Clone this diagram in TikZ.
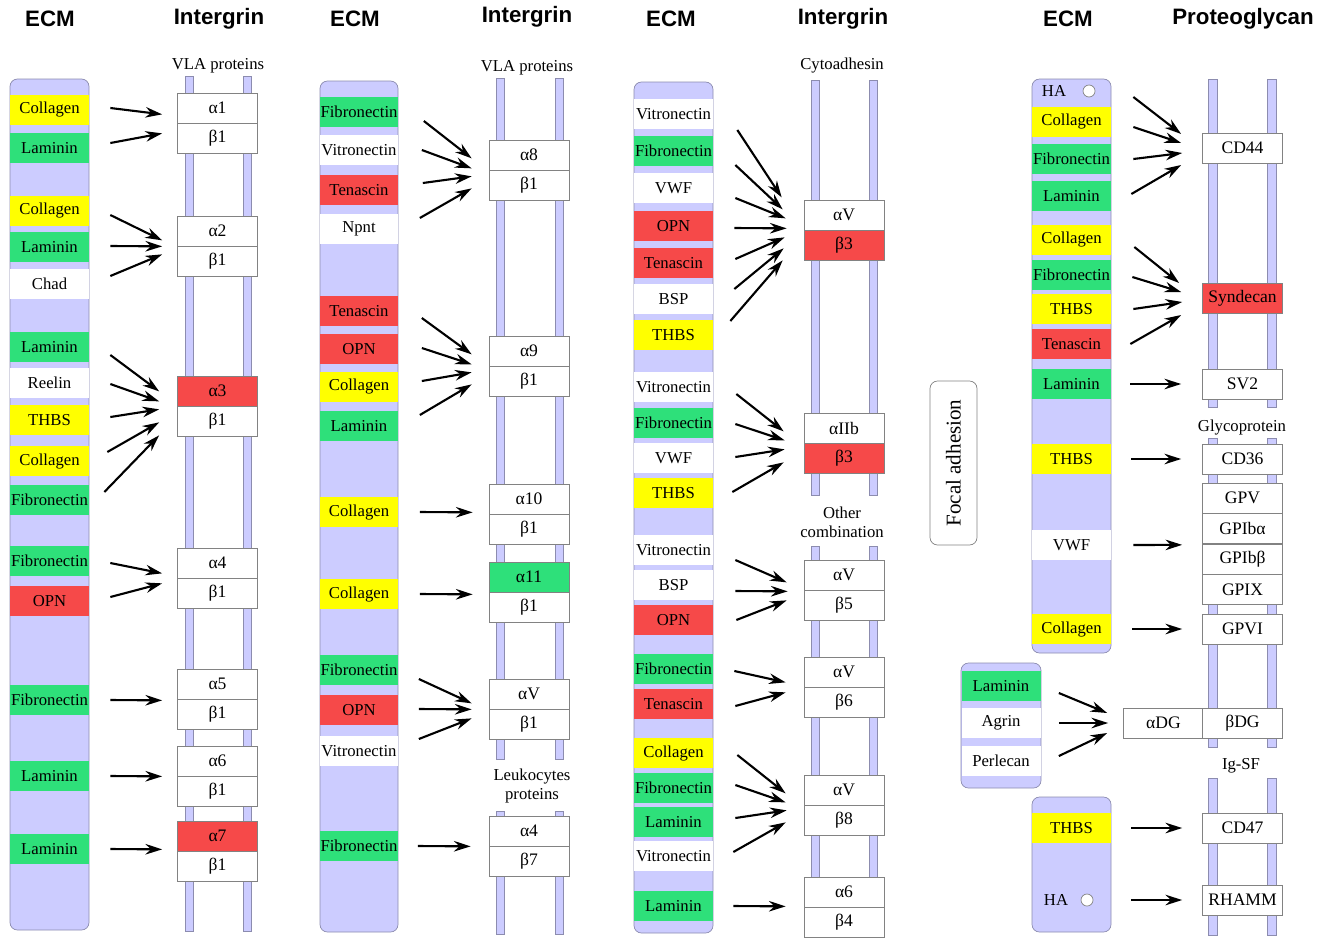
\documentclass[tikz,border=0pt]{standalone}
\usepackage{fontspec}
\setmainfont{Liberation Serif}
\setsansfont{Liberation Sans}
\usetikzlibrary{arrows.meta}

\definecolor{lav}{RGB}{204,204,255}
\definecolor{lavline}{RGB}{140,140,175}
\definecolor{ecmyel}{RGB}{255,255,0}
\definecolor{ecmgrn}{RGB}{46,224,122}
\definecolor{ecmred}{RGB}{246,73,73}
\definecolor{boxline}{RGB}{130,130,130}

\tikzset{
  head/.style={font=\sffamily\bfseries\fontsize{12.7}{15}\selectfont},
  note/.style={font=\fontsize{9.5}{11}\selectfont, align=center, inner sep=0pt},
  ecm/.style={fill=lav, draw=lavline, rounded corners=0.15cm},
  rail/.style={fill=lav, draw=lavline},
  band/.style={minimum width=1.58cm, minimum height=0.6cm, inner sep=0pt, font=\fontsize{9.5}{11}\selectfont},
  yband/.style={band, fill=ecmyel},
  gband/.style={band, fill=ecmgrn},
  rband/.style={band, fill=ecmred},
  wband/.style={band, fill=white},
  unit/.style={draw=boxline, fill=white, minimum width=1.6cm, minimum height=0.6cm, inner sep=0pt, font=\fontsize{10}{12}\selectfont},
  runit/.style={unit, fill=ecmred},
  gunit/.style={unit, fill=ecmgrn},
  hole/.style={circle, draw=boxline, fill=white, minimum size=0.24cm, inner sep=0pt},
  arr/.style={-{Stealth[length=9.5pt, width=6pt]}, line width=1.2pt}
}
\newcommand{\ecmlink}[4]{\draw[arr] ([shift={(#2)}]#1) -- ([shift={(#4)}]#3);}

\begin{document}
\begin{tikzpicture}[x=0.02cm, y=-0.02cm]
\useasboundingbox (0,0) rectangle (1324,937);

% headings
\node[head] (h1) at (50,19) {ECM};
\node[head] (h2) at (219,19) {Intergrin};
\node[head] (h3) at (355,19) {ECM};
\node[head] (h4) at (527,17) {Intergrin};
\node[head] (h5) at (671,19) {ECM};
\node[head] (h6) at (843,19) {Intergrin};
\node[head] (h7) at (1068,19) {ECM};
\node[head] (h8) at (1243,19) {Proteoglycan};

% panel 1
\draw[ecm] (10,79) rectangle (89,930);
\draw[rail] (185,76) rectangle (193,931);
\draw[rail] (243,76) rectangle (251,931);
\node[note] (vla1) at (218,66) {VLA proteins};

\node[yband] (x1) at (49.5,110) {Collagen};
\node[gband] (x2) at (49.5,148) {Laminin};
\node[yband] (x3) at (49.5,211) {Collagen};
\node[gband] (x4) at (49.5,247) {Laminin};
\node[wband] (x5) at (49.5,284) {Chad};
\node[gband] (x6) at (49.5,347) {Laminin};
\node[wband] (x7) at (49.5,383) {Reelin};
\node[yband] (x8) at (49.5,420) {THBS};
\node[yband] (x9) at (49.5,461) {Collagen};
\node[gband] (x10) at (49.5,500) {Fibronectin};
\node[gband] (x11) at (49.5,561) {Fibronectin};
\node[rband] (x12) at (49.5,601) {OPN};
\node[gband] (x13) at (49.5,700) {Fibronectin};
\node[gband] (x14) at (49.5,776) {Laminin};
\node[gband] (x15) at (49.5,849) {Laminin};

\node[unit] (al1) at (217.5,108) {α1};
\node[unit] (be1) at (217.5,138) {β1};
\node[unit] (al2) at (217.5,231) {α2};
\node[unit] (be2) at (217.5,261) {β1};
\node[runit] (al3) at (217.5,391) {α3};
\node[unit] (be3) at (217.5,421) {β1};
\node[unit] (al4) at (217.5,563) {α4};
\node[unit] (be4) at (217.5,593) {β1};
\node[unit] (al5) at (217.5,684) {α5};
\node[unit] (be5) at (217.5,714) {β1};
\node[unit] (al6) at (217.5,761) {α6};
\node[unit] (be6) at (217.5,791) {β1};
\node[runit] (al7) at (217.5,836) {α7};
\node[unit] (be7) at (217.5,866) {β1};

\ecmlink{x1.east}{21,-2}{al1.south west}{-15,-9}
\ecmlink{x2.east}{21,-5}{al1.south west}{-15,10}
\ecmlink{x3.east}{21,4}{al2.south west}{-15,-6}
\ecmlink{x4.east}{21,-1}{al2.south west}{-15,0}
\ecmlink{x5.east}{21,-8}{al2.south west}{-15,8}
\ecmlink{x6.east}{21,8}{al3.south west}{-18,-15}
\ecmlink{x7.east}{21,1}{al3.south west}{-18,-5}
\ecmlink{x8.east}{21,-3}{al3.south west}{-18,3}
\ecmlink{x9.east}{18,-9}{al3.south west}{-18,16}
\ecmlink{x10.east}{15,-8}{al3.south west}{-18,29}
\ecmlink{x11.east}{21,2}{al4.south west}{-15,-5}
\ecmlink{x12.east}{21,-4}{al4.south west}{-15,5}
\ecmlink{x13.east}{21,0}{al5.south west}{-15,1}
\ecmlink{x14.east}{21,0}{al6.south west}{-15,0}
\ecmlink{x15.east}{21,0}{al7.south west}{-15,-2}

% panel 2
\draw[ecm] (320,81) rectangle (398,932);
\draw[rail] (496,78) rectangle (504,759);
\draw[rail] (555,78) rectangle (563,759);
\draw[rail] (496,811) rectangle (504,934);
\draw[rail] (555,811) rectangle (563,934);
\node[note] (vla2) at (527,68) {VLA proteins};
\node[note] (leuko) at (532,786) {Leukocytes\\proteins};

\node[gband] (y1) at (359,112) {Fibronectin};
\node[wband] (y2) at (359,150) {Vitronectin};
\node[rband] (y3) at (359,190) {Tenascin};
\node[wband] (y4) at (359,229) {Npnt};
\node[rband] (y5) at (359,311) {Tenascin};
\node[rband] (y6) at (359,349) {OPN};
\node[yband] (y7) at (359,387) {Collagen};
\node[gband] (y8) at (359,426) {Laminin};
\node[yband] (y9) at (359,512) {Collagen};
\node[yband] (y10) at (359,594) {Collagen};
\node[gband] (y11) at (359,670) {Fibronectin};
\node[rband] (y12) at (359,710) {OPN};
\node[wband] (y13) at (359,751) {Vitronectin};
\node[gband] (y14) at (359,846) {Fibronectin};

\node[unit] (al8) at (529,155) {α8};
\node[unit] (be8) at (529,185) {β1};
\node[unit] (al9) at (529,351) {α9};
\node[unit] (be9) at (529,381) {β1};
\node[unit] (al10) at (529,499) {α10};
\node[unit] (be10) at (529,529) {β1};
\node[gunit] (al11) at (529,577) {α11};
\node[unit] (be11) at (529,607) {β1};
\node[unit] (alv1) at (529,694) {αV};
\node[unit] (bev1) at (529,724) {β1};
\node[unit] (al4b) at (529,831) {α4};
\node[unit] (be47) at (529,861) {β7};

\ecmlink{y1.east}{25,9}{al8.south west}{-17,-12}
\ecmlink{y2.east}{23,0}{al8.south west}{-17,-2}
\ecmlink{y3.east}{24,-7}{al8.south west}{-17,6}
\ecmlink{y4.east}{21,-11}{al8.south west}{-17,18}
\ecmlink{y5.east}{23,7}{al9.south west}{-17,-12}
\ecmlink{y6.east}{23,-1}{al9.south west}{-17,-2}
\ecmlink{y7.east}{23,-6}{al9.south west}{-17,6}
\ecmlink{y8.east}{21,-11}{al9.south west}{-17,18}
\ecmlink{y9.east}{21,0}{al10.south west}{-16,-2}
\ecmlink{y10.east}{21,0}{al11.south west}{-16,2}
\ecmlink{y11.east}{20,9}{alv1.south west}{-17,-6}
\ecmlink{y12.east}{20,-1}{alv1.south west}{-17,0}
\ecmlink{y13.east}{20,-12}{alv1.south west}{-17,9}
\ecmlink{y14.east}{19,0}{al4b.south west}{-18,0}

% panel 3
\draw[ecm] (634,82) rectangle (713,933);
\draw[rail] (811,80) rectangle (819,495);
\draw[rail] (869,80) rectangle (877,495);
\draw[rail] (811,546) rectangle (819,940);
\draw[rail] (869,546) rectangle (877,940);
\node[note] (cyto) at (842,66) {Cytoadhesin};
\node[note] (other) at (842,522) {Other\\combination};

\node[wband] (z1) at (673.5,114) {Vitronectin};
\node[gband] (z2) at (673.5,151) {Fibronectin};
\node[wband] (z3) at (673.5,188) {VWF};
\node[rband] (z4) at (673.5,226) {OPN};
\node[rband] (z5) at (673.5,263) {Tenascin};
\node[wband] (z6) at (673.5,299) {BSP};
\node[yband] (z7) at (673.5,335) {THBS};
\node[wband] (z8) at (673.5,387) {Vitronectin};
\node[gband] (z9) at (673.5,423) {Fibronectin};
\node[wband] (z10) at (673.5,458) {VWF};
\node[yband] (z11) at (673.5,493) {THBS};
\node[wband] (z12) at (673.5,550) {Vitronectin};
\node[wband] (z13) at (673.5,585) {BSP};
\node[rband] (z14) at (673.5,620) {OPN};
\node[gband] (z15) at (673.5,669) {Fibronectin};
\node[rband] (z16) at (673.5,704) {Tenascin};
\node[yband] (z17) at (673.5,753) {Collagen};
\node[gband] (z18) at (673.5,788) {Fibronectin};
\node[gband] (z19) at (673.5,822) {Laminin};
\node[wband] (z20) at (673.5,856) {Vitronectin};
\node[gband] (z21) at (673.5,906) {Laminin};

\node[unit] (alvA) at (844,215) {αV};
\node[runit] (b3A) at (844,245) {β3};
\node[unit] (alIIb) at (844,428) {αIIb};
\node[runit] (b3B) at (844,458) {β3};
\node[unit] (alvB) at (844,575) {αV};
\node[unit] (be5b) at (844,605) {β5};
\node[unit] (alvC) at (844,672) {αV};
\node[unit] (be6b) at (844,702) {β6};
\node[unit] (alvD) at (844,790) {αV};
\node[unit] (be8b) at (844,820) {β8};
\node[unit] (al6b) at (844,892) {α6};
\node[unit] (be4b) at (844,922) {β4};

\ecmlink{z1.east}{24,16}{alvA.south west}{-22,-33}
\ecmlink{z2.east}{22,14}{alvA.south west}{-21,-21}
\ecmlink{z3.east}{22,10}{alvA.south west}{-18,-12}
\ecmlink{z4.east}{21,2}{alvA.south west}{-17,-2}
\ecmlink{z5.east}{22,-4}{alvA.south west}{-19,7}
\ecmlink{z6.east}{21,-10}{alvA.south west}{-20,18}
\ecmlink{z7.east}{17,-14}{alvA.south west}{-21,30}
\ecmlink{z8.east}{23,7}{alIIb.south west}{-20,-12}
\ecmlink{z9.east}{22,1}{alIIb.south west}{-19,-3}
\ecmlink{z10.east}{22,-1}{alIIb.south west}{-19,6}
\ecmlink{z11.east}{19,-1}{alIIb.south west}{-20,19}
\ecmlink{z12.east}{22,10}{alvB.south west}{-17,-8}
\ecmlink{z13.east}{22,6}{alvB.south west}{-16,1}
\ecmlink{z14.east}{23,0}{alvB.south west}{-17,10}
\ecmlink{z15.east}{21,2}{alvC.south west}{-18,-5}
\ecmlink{z16.east}{22,2}{alvC.south west}{-18,5}
\ecmlink{z17.east}{24,2}{alvD.south west}{-18,-12}
\ecmlink{z18.east}{22,-3}{alvD.south west}{-18,-3}
\ecmlink{z19.east}{22,-4}{alvD.south west}{-17,5}
\ecmlink{z20.east}{20,-4}{alvD.south west}{-18,17}
\ecmlink{z21.east}{20,0}{al6b.south west}{-18,-1}

% panel 4
\node[draw=boxline, rounded corners=0.15cm, rotate=90, minimum width=3.28cm, minimum height=0.94cm,
  font=\fontsize{12}{14}\selectfont] (focal) at (953.5,463) {Focal adhesion};

\draw[ecm] (1032,79) rectangle (1111,653);
\draw[ecm] (961,663) rectangle (1041,788);
\draw[ecm] (1032,797) rectangle (1111,932);
\draw[rail] (1208,79) rectangle (1217,407);
\draw[rail] (1267,79) rectangle (1276,407);
\draw[rail] (1208,438) rectangle (1217,747);
\draw[rail] (1267,438) rectangle (1276,747);
\draw[rail] (1208,778) rectangle (1217,935);
\draw[rail] (1267,778) rectangle (1276,935);
\node[note] (glyco) at (1242,427) {Glycoprotein};
\node[note] (igsf) at (1241,766) {Ig-SF};

\node[band] (ha1) at (1054,91) {HA};
\node[hole] (hac1) at (1089,91) {};
\node[yband] (w1) at (1071.5,122) {Collagen};
\node[gband] (w2) at (1071.5,159) {Fibronectin};
\node[gband] (w3) at (1071.5,196) {Laminin};
\node[yband] (w4) at (1071.5,240) {Collagen};
\node[gband] (w5) at (1071.5,275) {Fibronectin};
\node[yband] (w6) at (1071.5,309) {THBS};
\node[rband] (w7) at (1071.5,344) {Tenascin};
\node[gband] (w8) at (1071.5,384) {Laminin};
\node[yband] (w9) at (1071.5,459) {THBS};
\node[wband] (w10) at (1071.5,545) {VWF};
\node[yband] (w11) at (1071.5,629) {Collagen};

\node[gband] (s1) at (1001,686) {Laminin};
\node[wband] (s2) at (1001,723) {Agrin};
\node[wband] (s3) at (1001,761) {Perlecan};

\node[yband] (t1) at (1071.5,828) {THBS};
\node[band] (ha2) at (1056,900) {HA};
\node[hole] (hac2) at (1087,900) {};

\node[unit] (cd44) at (1242.5,148) {CD44};
\node[runit] (synd) at (1242.5,298) {Syndecan};
\node[unit] (sv2) at (1242.5,384) {SV2};
\node[unit] (cd36) at (1242.5,459) {CD36};
\node[unit] (gpv) at (1242.5,498) {GPV};
\node[unit] (gpiba) at (1242.5,528.5) {GPIbα};
\node[unit] (gpibb) at (1242.5,559) {GPIbβ};
\node[unit] (gpix) at (1242.5,589.5) {GPIX};
\node[unit] (gpvi) at (1242.5,629) {GPVI};
\node[unit] (adg) at (1163.5,723) {αDG};
\node[unit] (bdg) at (1242.5,723) {βDG};
\node[unit] (cd47) at (1242.5,828) {CD47};
\node[unit] (rhamm) at (1242.5,900) {RHAMM};

\ecmlink{hac1.east}{38,6}{cd44.west}{-21,-14}
\ecmlink{w1.east}{22,5}{cd44.west}{-21,-5}
\ecmlink{w2.east}{22,0}{cd44.west}{-20,5}
\ecmlink{w3.east}{20,-2}{cd44.west}{-21,17}
\ecmlink{w4.east}{23,7}{synd.west}{-23,-15}
\ecmlink{w5.east}{21,2}{synd.west}{-21,-6}
\ecmlink{w6.east}{22,0}{synd.west}{-20,4}
\ecmlink{w7.east}{19,0}{synd.west}{-21,17}
\ecmlink{w8.east}{19,0}{sv2.west}{-21,0}
\ecmlink{w9.east}{20,0}{cd36.west}{-21,0}
\ecmlink{w10.east}{22,0}{gpiba.south west}{-20,1}
\ecmlink{w11.east}{21,0}{gpvi.west}{-20,0}
\ecmlink{s1.east}{18,7}{adg.west}{-16,-10}
\ecmlink{s2.east}{18,0}{adg.west}{-15,0}
\ecmlink{s3.east}{18,-5}{adg.west}{-16,10}
\ecmlink{t1.east}{20,0}{cd47.west}{-20,0}
\ecmlink{hac2.east}{38,0}{rhamm.west}{-20,0}
\end{tikzpicture}
\end{document}
